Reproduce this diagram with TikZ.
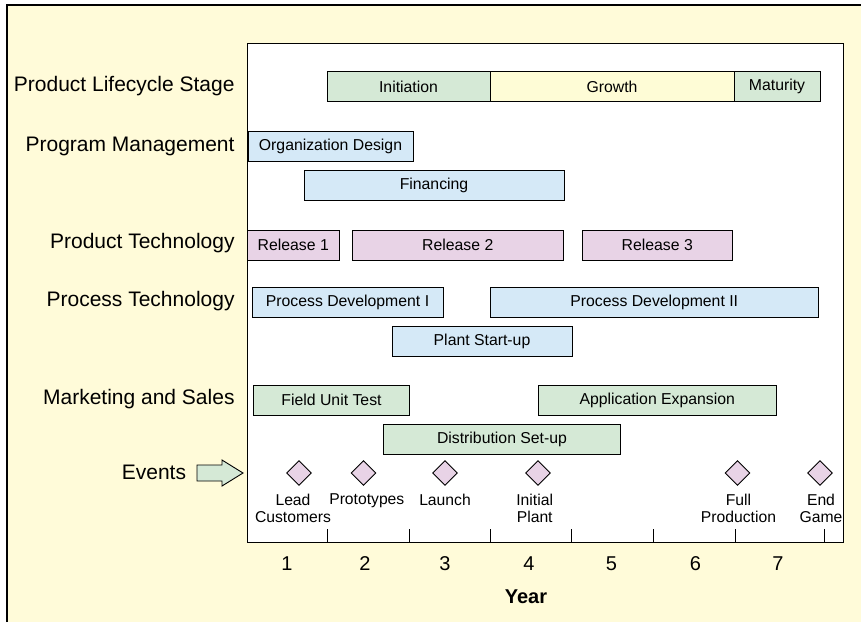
\documentclass[tikz,border=0pt]{standalone}
\usepackage{fontspec}
\setmainfont{Liberation Sans}
\usetikzlibrary{shapes.geometric}

\definecolor{cream}{RGB}{255,251,217}
\definecolor{bargreen}{RGB}{213,233,214}
\definecolor{baryellow}{RGB}{254,252,214}
\definecolor{barblue}{RGB}{213,233,247}
\definecolor{barpink}{RGB}{232,211,230}

\tikzset{
  ganttbar/.style={draw, rectangle, inner sep=0pt, minimum height=30pt,
    font=\fontsize{15.8}{18}\selectfont},
  rowlabel/.style={anchor=base east, inner sep=0pt, font=\fontsize{21}{24}\selectfont},
  milestone/.style={draw, diamond, fill=barpink, inner sep=0pt,
    minimum width=25pt, minimum height=25pt},
  evlabel/.style={anchor=north, align=center, inner sep=0pt,
    font=\fontsize{15.7}{17.4}\selectfont},
  yearlabel/.style={anchor=base, inner sep=0pt, font=\fontsize{20}{24}\selectfont},
}

\begin{document}
\begin{tikzpicture}[x=1pt, y=-1pt, line width=0.9pt]

	\useasboundingbox (0,0) rectangle (861,622);
	\fill[cream] (7,5) rectangle (861,622);
	\draw[line width=1.6pt] (7,622) -- (7,5) -- (861,5);

	% chart panel
	\draw[line width=1.3pt, fill=white] (247.5,43.5) rectangle (843.3,542.5);

	\node (lrow1) at (235,91) [rowlabel] {Product Lifecycle Stage};
	\node (lrow2) at (235,151) [rowlabel] {Program Management};
	\node (lrow3) at (235,248) [rowlabel] {Product Technology};
	\node (lrow4) at (235,306) [rowlabel] {Process Technology};
	\node (lrow5) at (235,404.5) [rowlabel] {Marketing and Sales};
	\node (lrow6) at (186.5,479) [rowlabel] {Events};

	\node (init) at (408.5,86.5) [ganttbar, fill=bargreen, minimum width=163pt] {Initiation};
	\node (growth) at (612,86.5) [ganttbar, fill=baryellow, minimum width=244pt] {Growth};
	\node (mature) at (777,86.5) [ganttbar, fill=bargreen, minimum width=86pt] {Maturity};

	\node (orgdesign) at (330.5,146) [ganttbar, fill=barblue, minimum width=165pt] {Organization Design};
	\node (finance) at (434,185) [ganttbar, fill=barblue, minimum width=260pt] {Financing};

	\node (rel1) at (293.25,245) [ganttbar, fill=barpink, minimum width=92.5pt] {Release 1};
	\node (rel2) at (457.75,245) [ganttbar, fill=barpink, minimum width=211.5pt] {Release 2};
	\node (rel3) at (657.25,245) [ganttbar, fill=barpink, minimum width=150.5pt] {Release 3};

	\node (procdev1) at (347.5,302) [ganttbar, fill=barblue, minimum width=191pt] {Process Development I};
	\node (procdev2) at (654.25,302) [ganttbar, fill=barblue, minimum width=327.5pt] {Process Development II};
	\node (plant) at (482,341) [ganttbar, fill=barblue, minimum width=180pt] {Plant Start-up};

	\node (fieldtest) at (331.5,400) [ganttbar, fill=bargreen, minimum width=156pt] {Field Unit Test};
	\node (appexp) at (657.25,400) [ganttbar, fill=bargreen, minimum width=237.5pt] {Application Expansion};
	\node (distrib) at (502,439) [ganttbar, fill=bargreen, minimum width=237pt] {Distribution Set-up};

	% events
	\filldraw[fill=bargreen] (197,465) -- (222,465) -- (222,460) -- (243,473)
	        -- (222,486) -- (222,481) -- (197,481) -- cycle;

	\node (ev1) at (299,473) [milestone] {};
	\node (ev2) at (363.5,473) [milestone] {};
	\node (ev3) at (445,473) [milestone] {};
	\node (ev4) at (538,473) [milestone] {};
	\node (ev5) at (737.5,473) [milestone] {};
	\node (ev6) at (820,473) [milestone] {};

	\node (evl1) at (293,493.5) [evlabel] {Lead\\Customers};
	\node (evl2) at (366.8,493.5) [evlabel] {Prototypes};
	\node (evl3) at (445,493.5) [evlabel] {Launch};
	\node (evl4) at (534.7,493.5) [evlabel] {Initial\\Plant};
	\node (evl5) at (738.5,493.5) [evlabel] {Full\\Production};
	\node (evl6) at (821,493.5) [evlabel] {End\\Game};

	% year axis
	\foreach \x in {327.7,409.3,490.7,571.7,653.3,735,824.3}
		\draw (\x,529) -- (\x,542.5);

	\foreach \n/\x in {1/287,2/365,3/445,4/529,5/611.5,6/695.5,7/778}
		\node (yr\n) at (\x,570.5) [yearlabel] {\n};

	\node (yearaxis) at (526,603) [yearlabel, font=\fontsize{20}{24}\selectfont\bfseries] {Year};

\end{tikzpicture}
\end{document}
